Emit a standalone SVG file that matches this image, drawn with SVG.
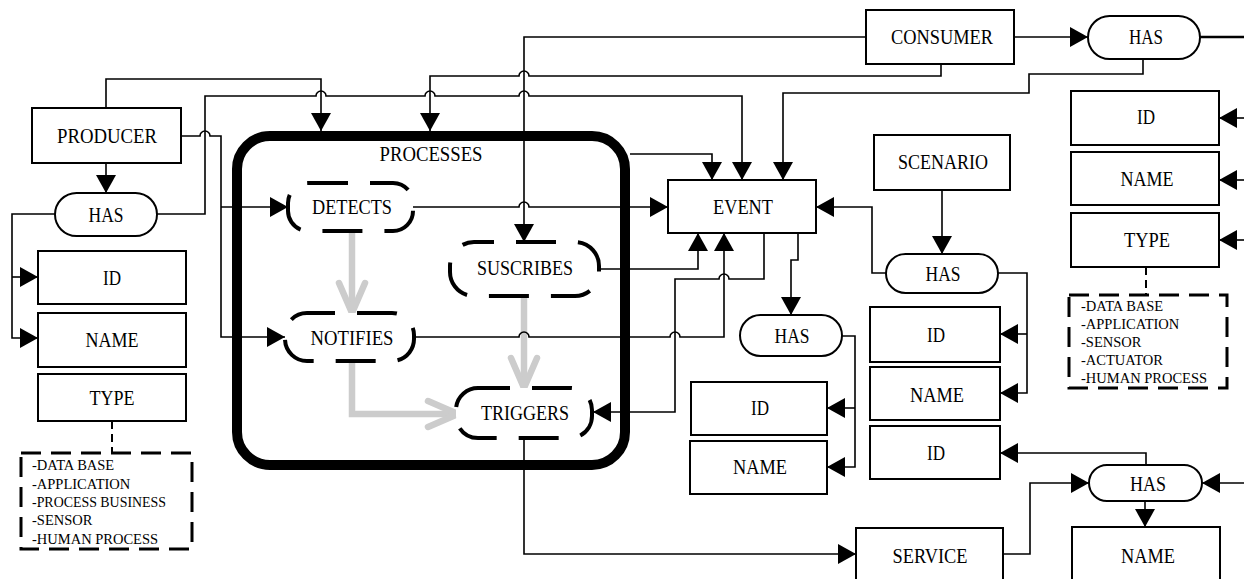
<svg xmlns="http://www.w3.org/2000/svg" width="1244" height="579" viewBox="0 0 1244 579">
<style>
.bx{fill:#fff;stroke:#000;stroke-width:2}
.pr{fill:#fff;stroke:#000;stroke-width:4;stroke-dasharray:40 22}
.ls{fill:none;stroke:#000;stroke-width:3;stroke-dasharray:20 10}
.c{fill:none;stroke:#000;stroke-width:1.6;marker-end:url(#ah)}
.n{fill:none;stroke:#000;stroke-width:1.6}
.d{fill:none;stroke:#000;stroke-width:2;stroke-dasharray:8 5}
.g{fill:none;stroke:#cccccc;stroke-width:6.5;marker-end:url(#gh)}
.t{font-family:"Liberation Serif",serif;font-size:20px;text-anchor:middle;fill:#000}
.l{font-family:"Liberation Serif",serif;font-size:14.5px;fill:#000}
</style>
<defs>
<marker id="ah" markerUnits="userSpaceOnUse" viewBox="0 0 18 20" markerWidth="18" markerHeight="20" refX="18" refY="10" orient="auto"><path d="M0,0 L18,10 L0,20 z" fill="#000"/></marker>
<marker id="gh" markerUnits="userSpaceOnUse" viewBox="0 0 40 32" markerWidth="40" markerHeight="32" refX="34" refY="16" orient="auto" overflow="visible"><path d="M4,3 L34,16 L4,29" fill="none" stroke="#cccccc" stroke-width="6.5" stroke-linecap="round" stroke-linejoin="round"/></marker>
</defs>
<rect width="1244" height="579" fill="#fff"/>

<g id="processes">
<rect x="237" y="136" width="388" height="329" rx="33" fill="none" stroke="#000" stroke-width="10"/>
<text class="t" x="431" y="161" textLength="103" lengthAdjust="spacingAndGlyphs">PROCESSES</text>
</g>

<g id="connectors">
<path class="g" d="M352,231 V313"/>
<path class="g" d="M352,361 V414 H458"/>
<path class="g" d="M524,296 V388"/>

<path class="c" d="M106,108 V79 H321 V131"/>
<path class="c" d="M181,136 H200 a5,5 0 0 1 10,0 H221 V337 H285"/>
<path class="c" d="M221,207 H288"/>
<path class="c" d="M106,163 V193"/>
<path class="c" d="M55,214 H12 V338 H38"/>
<path class="c" d="M12,277 H38"/>
<path class="c" d="M157,214 H205 V96 H316 a5,5 0 0 1 10,0 H425 a5,5 0 0 1 10,0 H519 a5,5 0 0 1 10,0 H742 V180"/>
<path class="d" d="M112,421 V453"/>
<path class="c" d="M941,64 V76 H529 a5,5 0 0 0 -10,0 H430 V131"/>
<path class="c" d="M866,37 H524 V242"/>
<path class="c" d="M1143,59 V74 H1029 V93 H783 V180"/>
<path class="c" d="M1014,37 H1088"/>
<path class="n" style="stroke-width:2.5" d="M1200,37 H1244"/>
<path class="c" d="M1244,118 H1219"/>
<path class="c" d="M1244,180 H1219"/>
<path class="c" d="M1244,240 H1219"/>
<path class="d" d="M1146,267 V295"/>
<path class="c" d="M630,154 H712 V180"/>
<path class="c" d="M413,207 H519 a5,5 0 0 1 10,0 H668"/>
<path class="c" d="M599,269 H698 V233"/>
<path class="c" d="M414,337 H519 a5,5 0 0 1 10,0 H670 a5,5 0 0 1 10,0 H724 V233"/>
<path class="c" d="M764,233 V279 H729 a5,5 0 0 0 -10,0 H675 V412 H593"/>
<path class="c" d="M798,233 V260 H791 V315"/>
<path class="c" d="M842,336 H855 V467 H827"/>
<path class="c" d="M855,408 H827"/>
<path class="c" d="M942,190 V254"/>
<path class="c" d="M886,273 H872 V207 H816"/>
<path class="c" d="M998,273 H1027 V393 H1000"/>
<path class="c" d="M1027,334 H1000"/>
<path class="c" d="M1146,465 V453 H1000"/>
<path class="c" d="M1003,554 H1030 V483 H1089"/>
<path class="c" d="M1244,483 H1202"/>
<path class="c" d="M1145,501 V527"/>
<path class="c" d="M524,438 V554 H856"/>
</g>

<g id="producer"><rect class="bx" x="32" y="108" width="149" height="55"/><text class="t" x="107" y="143" textLength="100" lengthAdjust="spacingAndGlyphs">PRODUCER</text></g>
<g id="has_producer"><rect class="bx" x="55" y="193" width="102" height="43" rx="21.5"/><text class="t" x="106" y="222" textLength="35" lengthAdjust="spacingAndGlyphs">HAS</text></g>
<g id="id_producer"><rect class="bx" x="38" y="251" width="148" height="53"/><text class="t" x="112" y="285" textLength="18" lengthAdjust="spacingAndGlyphs">ID</text></g>
<g id="name_producer"><rect class="bx" x="38" y="313" width="148" height="54"/><text class="t" x="112" y="347" textLength="53" lengthAdjust="spacingAndGlyphs">NAME</text></g>
<g id="type_producer"><rect class="bx" x="38" y="374" width="148" height="47"/><text class="t" x="112" y="405" textLength="45" lengthAdjust="spacingAndGlyphs">TYPE</text></g>
<g id="list_producer"><rect class="ls" x="21" y="453" width="171" height="96"/>
<text class="l" x="32" y="470">-DATA BASE</text>
<text class="l" x="32" y="489">-APPLICATION</text>
<text class="l" x="32" y="507" textLength="134" lengthAdjust="spacingAndGlyphs">-PROCESS BUSINESS</text>
<text class="l" x="32" y="525">-SENSOR</text>
<text class="l" x="32" y="544">-HUMAN PROCESS</text></g>

<g id="detects"><rect class="pr" x="288" y="183" width="125" height="48" rx="20"/><text class="t" x="352" y="214" textLength="80" lengthAdjust="spacingAndGlyphs">DETECTS</text></g>
<g id="notifies"><rect class="pr" x="285" y="313" width="129" height="48" rx="22" style="stroke-dashoffset:12"/><text class="t" x="352" y="345" textLength="83" lengthAdjust="spacingAndGlyphs">NOTIFIES</text></g>
<g id="suscribes"><rect class="pr" x="450" y="242" width="149" height="54" rx="24" style="stroke-dashoffset:20"/><text class="t" x="525" y="275" textLength="96" lengthAdjust="spacingAndGlyphs">SUSCRIBES</text></g>
<g id="triggers"><rect class="pr" x="456" y="388" width="136" height="50" rx="22" style="stroke-dashoffset:8"/><text class="t" x="525" y="420" textLength="88" lengthAdjust="spacingAndGlyphs">TRIGGERS</text></g>

<g id="event"><rect class="bx" x="668" y="180" width="148" height="53"/><text class="t" x="743" y="214" textLength="60" lengthAdjust="spacingAndGlyphs">EVENT</text></g>
<g id="has_event"><rect class="bx" x="740" y="315" width="102" height="41" rx="20.5"/><text class="t" x="792" y="343" textLength="35" lengthAdjust="spacingAndGlyphs">HAS</text></g>
<g id="id_event"><rect class="bx" x="691" y="382" width="136" height="53"/><text class="t" x="760" y="415" textLength="18" lengthAdjust="spacingAndGlyphs">ID</text></g>
<g id="name_event"><rect class="bx" x="690" y="441" width="137" height="53"/><text class="t" x="760" y="474" textLength="54" lengthAdjust="spacingAndGlyphs">NAME</text></g>

<g id="scenario"><rect class="bx" x="874" y="135" width="136" height="55"/><text class="t" x="943" y="169" textLength="90" lengthAdjust="spacingAndGlyphs">SCENARIO</text></g>
<g id="has_scenario"><rect class="bx" x="886" y="254" width="112" height="39" rx="19.5"/><text class="t" x="943" y="281" textLength="35" lengthAdjust="spacingAndGlyphs">HAS</text></g>
<g id="id_scenario"><rect class="bx" x="870" y="307" width="130" height="55"/><text class="t" x="936" y="342" textLength="18" lengthAdjust="spacingAndGlyphs">ID</text></g>
<g id="name_scenario"><rect class="bx" x="870" y="367" width="130" height="53"/><text class="t" x="937" y="402" textLength="54" lengthAdjust="spacingAndGlyphs">NAME</text></g>
<g id="id_service"><rect class="bx" x="870" y="426" width="130" height="53"/><text class="t" x="936" y="460" textLength="18" lengthAdjust="spacingAndGlyphs">ID</text></g>

<g id="consumer"><rect class="bx" x="866" y="10" width="148" height="54"/><text class="t" x="942" y="44" textLength="102" lengthAdjust="spacingAndGlyphs">CONSUMER</text></g>
<g id="has_consumer"><rect class="bx" x="1088" y="16" width="112" height="43" rx="21.5"/><text class="t" x="1146" y="44" textLength="34" lengthAdjust="spacingAndGlyphs">HAS</text></g>
<g id="id_consumer"><rect class="bx" x="1071" y="91" width="148" height="54"/><text class="t" x="1146" y="124" textLength="18" lengthAdjust="spacingAndGlyphs">ID</text></g>
<g id="name_consumer"><rect class="bx" x="1071" y="152" width="148" height="53"/><text class="t" x="1147" y="186" textLength="53" lengthAdjust="spacingAndGlyphs">NAME</text></g>
<g id="type_consumer"><rect class="bx" x="1071" y="213" width="148" height="54"/><text class="t" x="1147" y="247" textLength="46" lengthAdjust="spacingAndGlyphs">TYPE</text></g>
<g id="list_consumer"><rect class="ls" x="1069" y="295" width="158" height="93"/>
<text class="l" x="1081" y="311">-DATA BASE</text>
<text class="l" x="1081" y="329">-APPLICATION</text>
<text class="l" x="1081" y="347">-SENSOR</text>
<text class="l" x="1081" y="365">-ACTUATOR</text>
<text class="l" x="1081" y="383">-HUMAN PROCESS</text></g>

<g id="has_service"><rect class="bx" x="1089" y="465" width="113" height="36" rx="18"/><text class="t" x="1148" y="491" textLength="36" lengthAdjust="spacingAndGlyphs">HAS</text></g>
<g id="service"><rect class="bx" x="856" y="528" width="147" height="60"/><text class="t" x="930" y="563" textLength="75" lengthAdjust="spacingAndGlyphs">SERVICE</text></g>
<g id="name_service"><rect class="bx" x="1072" y="527" width="148" height="60"/><text class="t" x="1148" y="563" textLength="54" lengthAdjust="spacingAndGlyphs">NAME</text></g>
</svg>
